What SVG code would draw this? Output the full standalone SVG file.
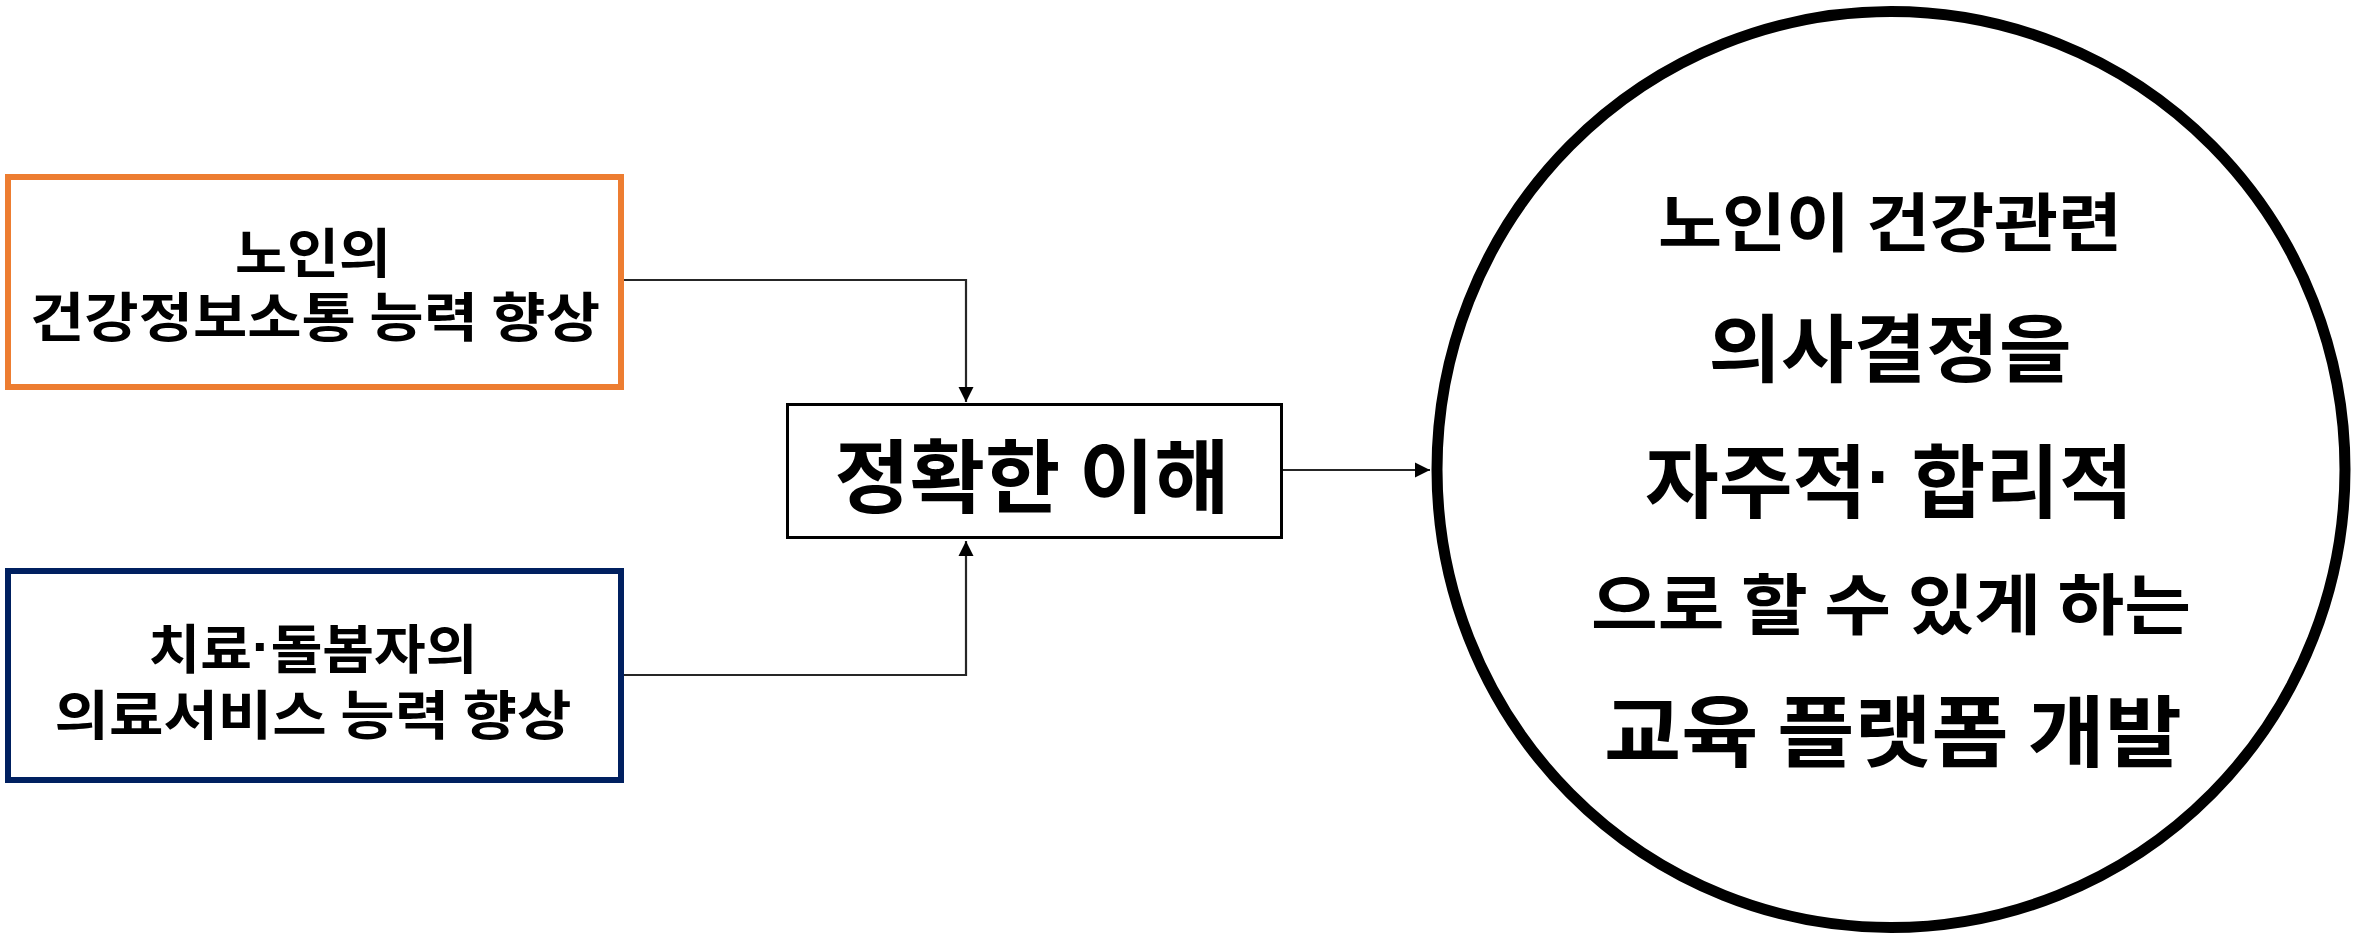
<svg xmlns="http://www.w3.org/2000/svg" width="2364" height="936" viewBox="0 0 2364 936">
<style>
text{font-family:"Noto Sans CJK KR","Noto Sans",sans-serif;font-weight:700;fill:#000;text-anchor:middle;dominant-baseline:central}
.dot{font-family:"Liberation Sans",sans-serif}
.conn{fill:none;stroke:#262626;stroke-width:2.2}
</style>
<defs>
<marker id="ah" viewBox="0 0 10 10" refX="10" refY="5" markerWidth="7" markerHeight="7" markerUnits="strokeWidth" orient="auto">
<path d="M0,0 L10,5 L0,10 z" fill="#000"/>
</marker>
</defs>
<rect width="2364" height="936" fill="#fff"/>
<g id="connectors">
<path class="conn" d="M624,280 H966 V402" marker-end="url(#ah)"/>
<path class="conn" d="M624,675 H966 V541" marker-end="url(#ah)"/>
<path class="conn" d="M1283,470 H1430" marker-end="url(#ah)"/>
</g>
<g id="node-elderly">
<rect x="8" y="177" width="613" height="210" fill="#fff" stroke="#ED7D31" stroke-width="6"/>
<text x="313" y="250" font-size="53" textLength="156" lengthAdjust="spacingAndGlyphs">노인의</text>
<text x="315" y="314" font-size="53" textLength="570" lengthAdjust="spacingAndGlyphs">건강정보소통 능력 향상</text>
</g>
<g id="node-carer">
<rect x="8" y="571" width="613" height="209" fill="#fff" stroke="#002060" stroke-width="6"/>
<text x="313" y="646" font-size="53" textLength="329" lengthAdjust="spacingAndGlyphs">치료<tspan class="dot">·</tspan>돌봄자의</text>
<text x="313" y="712" font-size="53" textLength="517" lengthAdjust="spacingAndGlyphs">의료서비스 능력 향상</text>
</g>
<g id="node-understanding">
<rect x="787.5" y="404.5" width="494" height="133" fill="#fff" stroke="#000" stroke-width="3"/>
<text x="1032" y="471" font-size="80" textLength="395" lengthAdjust="spacingAndGlyphs">정확한 이해</text>
</g>
<g id="node-goal">
<ellipse cx="1891" cy="469.5" rx="454" ry="458" fill="#fff" stroke="#000" stroke-width="11"/>
<text x="1890" y="218" font-size="64" textLength="464" lengthAdjust="spacingAndGlyphs">노인이 건강관련</text>
<text x="1890" y="343" font-size="74" textLength="363" lengthAdjust="spacingAndGlyphs">의사결정을</text>
<text x="1889" y="476" font-size="80" textLength="488" lengthAdjust="spacingAndGlyphs">자주적<tspan class="dot">·</tspan> 합리적</text>
<text x="1891" y="600" font-size="66" textLength="600" lengthAdjust="spacingAndGlyphs">으로 할 수 있게 하는</text>
<text x="1893" y="727" font-size="78" textLength="578" lengthAdjust="spacingAndGlyphs">교육 플랫폼 개발</text>
</g>
</svg>
